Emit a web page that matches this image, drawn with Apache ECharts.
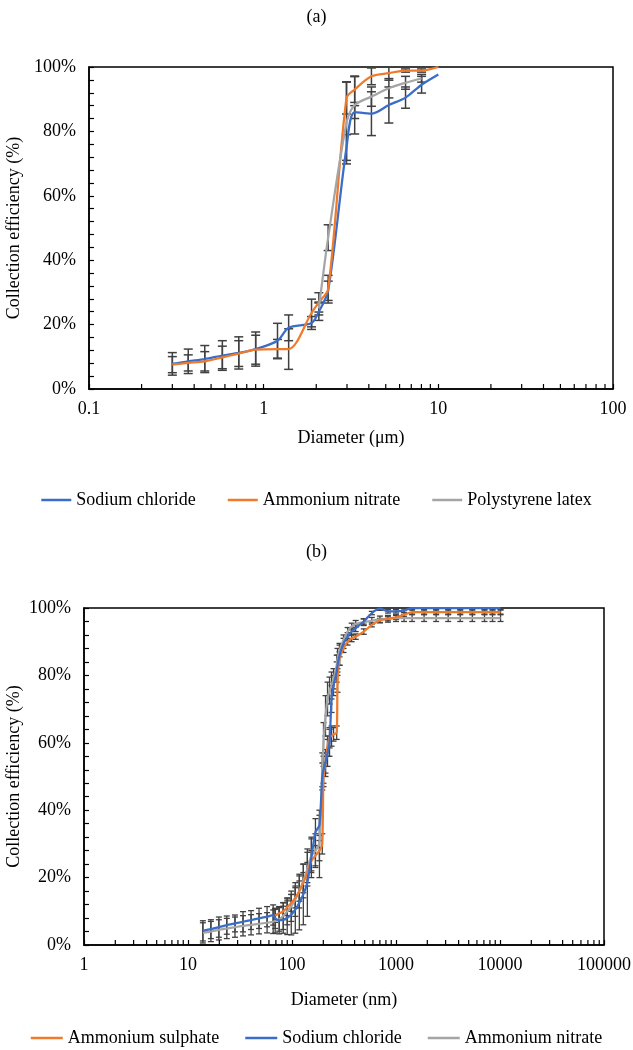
<!DOCTYPE html>
<html><head><meta charset="utf-8">
<script src="https://cdn.jsdelivr.net/npm/echarts@6/dist/echarts.min.js"></script>
<style>html,body{margin:0;padding:0;background:#fff}#c{width:633px;height:1050px}</style>
</head><body><div id="c"></div>
<script>
// ---------- Panel (a): diameter in µm ----------
const diamA = [0.3, 0.37, 0.46, 0.58, 0.72, 0.9, 1.2, 1.39, 1.88, 2.07, 2.34, 2.98, 3.32, 4.14, 5.21, 6.49, 8.02, 10];
const naClA = [0.078, 0.086, 0.093, 0.104, 0.112, 0.124, 0.150, 0.190, 0.205, 0.240, 0.305, 0.75, 0.86, 0.855, 0.882, 0.905, 0.945, 0.977];
const naClAErr = [0.035, 0.038, 0.042, 0.046, 0.05, 0.053, 0.054, 0.04, 0.02, 0.027, 0.03, 0.04, 0.02, 0.068, 0.056, 0.033, 0.026, 0];
const anA = [0.0756, 0.081, 0.086, 0.098, 0.110, 0.122, 0.124, 0.124, 0.236, 0.269, 0.31, 0.904, 0.93, 0.971, 0.981, 0.989, 0.989, 1.0];
const anAErr = [0.025, 0.025, 0.03, 0.035, 0.04, 0.045, 0.03, 0.063, 0.043, 0.03, 0.043, 0.05, 0.04, 0.026, 0.022, 0.005, 0.005, 0];
const diamPSL = [2.07, 2.34, 2.98, 3.32, 4.14, 5.21, 6.49, 8.02];
const pslA = [0.25, 0.47, 0.826, 0.882, 0.908, 0.934, 0.951, 0.965];
const pslAErr = [0.02, 0.04, 0.127, 0.09, 0.03, 0.03, 0.02, 0.012];
const namesA = ['Sodium chloride', 'Ammonium nitrate', 'Polystyrene latex'];

// ---------- Panel (b): diameter in nm ----------
const diamB = [13.9, 16.6, 19.8, 23.6, 28.3, 33.8, 40.4, 48.2, 57.6, 65.9, 68.9, 75.3, 82.4, 90, 98.4, 107.6, 117.6, 128.5, 140.5, 153.6, 168, 183.6, 195.5, 200.8, 210, 219.6, 229.6, 240, 250.9, 269, 274, 286.5, 313, 342.6, 374.6, 409.6, 489.7, 585.5, 699.9, 836.8, 1000, 1195, 1428, 1863, 2432, 3175, 4146, 5416, 7093, 8473, 10120];
const asB = [null, null, null, null, null, null, null, null, null, null, 0.087, 0.094, 0.100, 0.112, 0.125, 0.14, 0.16, 0.185, 0.215, 0.25, 0.265, 0.28, 0.30, 0.50, 0.54, 0.59, 0.615, 0.62, 0.625, 0.63, 0.78, 0.85, 0.88, 0.90, 0.91, 0.915, 0.93, 0.95, 0.963, 0.968, 0.972, 0.98, 0.988, 0.988, 0.988, 0.988, 0.988, 0.988, 0.988, 0.988, 0.988];
const asBErr = [null, null, null, null, null, null, null, null, null, null, 0.02, 0.02, 0.025, 0.025, 0.025, 0.03, 0.03, 0.03, 0.03, 0.03, 0.03, 0.03, 0.03, 0.03, 0.03, 0.03, 0.03, 0.03, 0.02, 0.02, 0.03, 0.02, 0.012, 0.01, 0.01, 0.008, 0.008, 0.006, 0.006, 0.006, 0.006, 0.006, 0.006, 0.006, 0.006, 0.006, 0.006, 0.006, 0.006, 0.006, 0.006];
const naClB = [0.042, 0.047, 0.053, 0.059, 0.064, 0.069, 0.074, 0.079, 0.084, 0.089, 0.079, 0.073, 0.075, 0.081, 0.090, 0.105, 0.125, 0.150, 0.185, 0.26, 0.335, 0.355, 0.50, 0.52, 0.54, 0.57, 0.60, 0.73, 0.77, 0.81, 0.83, 0.86, 0.895, 0.915, 0.93, 0.94, 0.96, 0.985, 0.998, 0.99, 0.99, 0.992, 1.0, 1.0, 1.0, 1.0, 1.0, 1.0, 1.0, 1.0, 1.0];
const naClBErr = [0.03, 0.028, 0.03, 0.027, 0.025, 0.03, 0.028, 0.03, 0.03, 0.03, 0.03, 0.04, 0.04, 0.05, 0.06, 0.07, 0.08, 0.09, 0.1, 0.06, 0.04, 0.03, 0.04, 0.04, 0.04, 0.04, 0.04, 0.04, 0.03, 0.03, 0.03, 0.03, 0.015, 0.012, 0.01, 0.01, 0.008, 0.005, 0.005, 0.005, 0.005, 0.005, 0.005, 0.005, 0.005, 0.005, 0.005, 0.005, 0.005, 0.005, 0.005];
const anB = [0.036, 0.040, 0.045, 0.049, 0.053, 0.057, 0.060, 0.063, 0.066, 0.069, 0.071, 0.076, 0.086, 0.10, 0.115, 0.135, 0.16, 0.19, 0.225, 0.265, 0.28, 0.30, 0.52, 0.60, 0.68, 0.73, 0.755, 0.77, 0.79, 0.83, 0.85, 0.875, 0.905, 0.93, 0.945, 0.953, 0.958, 0.962, 0.966, 0.968, 0.97, 0.97, 0.97, 0.97, 0.97, 0.97, 0.97, 0.97, 0.97, 0.97, 0.97];
const anBErr = [0.03, 0.03, 0.03, 0.03, 0.03, 0.03, 0.03, 0.03, 0.03, 0.035, 0.035, 0.035, 0.04, 0.04, 0.045, 0.05, 0.05, 0.05, 0.05, 0.05, 0.05, 0.1, 0.05, 0.06, 0.06, 0.05, 0.04, 0.04, 0.03, 0.03, 0.03, 0.02, 0.015, 0.012, 0.01, 0.01, 0.01, 0.01, 0.01, 0.01, 0.01, 0.01, 0.01, 0.01, 0.01, 0.01, 0.01, 0.01, 0.01, 0.01, 0.01];
const namesB = ['Ammonium sulphate', 'Sodium chloride', 'Ammonium nitrate'];

// ---------- Axis tick labels ----------
const xTicksA = [0.1, 1, 10, 100];
const xTicksB = [1, 10, 100, 1000, 10000, 100000];
const yTicks = [0, 0.2, 0.4, 0.6, 0.8, 1.0];

// ---------- Styling ----------
const FONT = '"Liberation Serif","Times New Roman",serif';
const BLUE = '#3A6DC8', ORANGE = '#F07A2C', GRAY = '#A5A5A5', ERR = '#404040';
const FS = 18;

function zip(xs, ys) { return xs.map((x, i) => [x, ys[i] == null ? null : ys[i]]); }
function errRows(xs, ys, es) {
  const r = [];
  xs.forEach((x, i) => { if (ys[i] != null && es[i]) r.push([x, ys[i] - es[i], ys[i] + es[i]]); });
  return r;
}
function errRender(cap, w) {
  return function (params, api) {
    const x = api.value(0), lo = api.value(1), hi = api.value(2);
    const a = api.coord([x, lo]), b = api.coord([x, hi]);
    const st = { stroke: ERR, lineWidth: w };
    return { type: 'group', children: [
      { type: 'line', shape: { x1: a[0], y1: a[1], x2: b[0], y2: b[1] }, style: st },
      { type: 'line', shape: { x1: a[0] - cap, y1: a[1], x2: a[0] + cap, y2: a[1] }, style: st },
      { type: 'line', shape: { x1: b[0] - cap, y1: b[1], x2: b[0] + cap, y2: b[1] }, style: st }
    ] };
  };
}
function minorLogTicks(ticks) {
  const out = [];
  for (let i = 0; i < ticks.length - 1; i++) for (let m = 2; m <= 9; m++) out.push([ticks[i] * m, 0]);
  return out;
}
function minorTickSeries(gi, ticks) {
  return {
    type: 'custom', xAxisIndex: gi, yAxisIndex: gi, silent: true, z: 5,
    data: minorLogTicks(ticks), encode: { x: 0, y: 1 },
    renderItem: (p, api) => {
      const c = api.coord([api.value(0), 0]);
      return { type: 'line', shape: { x1: c[0], y1: c[1], x2: c[0], y2: c[1] - 5 }, style: { stroke: '#000', lineWidth: 1.2 } };
    }
  };
}
function xAxis(gi, ticks, name, gap) {
  return {
    type: 'log', logBase: 10, gridIndex: gi, min: ticks[0], max: ticks[ticks.length - 1],
    name, nameLocation: 'middle', nameGap: gap,
    nameTextStyle: { fontFamily: FONT, fontSize: FS, color: '#000' },
    axisLine: { onZero: false, lineStyle: { color: '#000', width: 1.5 } },
    axisTick: { inside: true, length: 5, lineStyle: { color: '#000', width: 1.2 } },
    axisLabel: { fontFamily: FONT, fontSize: FS, color: '#000', margin: 11,
      formatter: v => { const n = ticks.find(t => Math.abs(t - v) / t < 1e-6); return n != null ? String(n) : ''; } },
    splitLine: { show: false }
  };
}
function yAxis(gi, gap) {
  return {
    type: 'value', gridIndex: gi, min: yTicks[0], max: yTicks[yTicks.length - 1], interval: 0.2,
    name: 'Collection efficiency (%)', nameLocation: 'middle', nameGap: gap, nameRotate: 90, nameMoveOverlap: false,
    nameTextStyle: { fontFamily: FONT, fontSize: FS, color: '#000' },
    axisLine: { show: true, lineStyle: { color: '#000', width: 1.5 } },
    axisTick: { show: true, inside: true, length: 5, lineStyle: { color: '#000', width: 1.2 } },
    minorTick: { show: true, splitNumber: 5, length: 5, lineStyle: { color: '#000', width: 1.2 } },
    axisLabel: { fontFamily: FONT, fontSize: FS, color: '#000', margin: 13, formatter: v => Math.round(v * 100) + '%' },
    splitLine: { show: false }
  };
}
function lineSeries(gi, key, data, color, smooth) {
  return {
    type: 'line', name: key, xAxisIndex: gi, yAxisIndex: gi, data, symbol: 'none', smooth,
    lineStyle: { color, width: 2.25 }, itemStyle: { color }, z: 4, silent: true
  };
}
function errSeries(gi, rows, cap, w) {
  return { type: 'custom', xAxisIndex: gi, yAxisIndex: gi, data: rows, encode: { x: 0, y: [1, 2] },
    renderItem: errRender(cap, w), silent: true, z: 3, clip: true };
}

const chart = echarts.init(document.getElementById('c'), null, { renderer: 'canvas' });
const legendText = { fontFamily: FONT, fontSize: FS, color: '#000' };
const gridBase = { show: true, borderColor: '#000', borderWidth: 1.5, containLabel: false, outerBoundsMode: 'none' };
chart.setOption({
  backgroundColor: '#fff',
  animation: false,
  title: [
    { text: '(a)', left: 'center', top: 3, textStyle: { fontFamily: FONT, fontSize: FS, fontWeight: 'normal', color: '#000' } },
    { text: '(b)', left: 'center', top: 538, textStyle: { fontFamily: FONT, fontSize: FS, fontWeight: 'normal', color: '#000' } }
  ],
  grid: [
    Object.assign({ left: 89, top: 67, width: 524, height: 322 }, gridBase),
    Object.assign({ left: 84, top: 608, width: 520, height: 337 }, gridBase)
  ],
  legend: [
    { data: namesA.map(n => 'a:' + n), top: 486, left: 'center', icon: 'rect', itemWidth: 30, itemHeight: 2.5, itemGap: 32,
      textStyle: legendText, formatter: n => n.slice(2), selectedMode: false },
    { data: namesB.map(n => 'b:' + n), top: 1024, left: 'center', icon: 'rect', itemWidth: 32, itemHeight: 2.5, itemGap: 26,
      textStyle: legendText, formatter: n => n.slice(2), selectedMode: false }
  ],
  xAxis: [xAxis(0, xTicksA, 'Diameter (μm)', 40), xAxis(1, xTicksB, 'Diameter (nm)', 46)],
  yAxis: [yAxis(0, 66), yAxis(1, 61)],
  series: [
    minorTickSeries(0, xTicksA),
    minorTickSeries(1, xTicksB),
    errSeries(0, errRows(diamA, naClA, naClAErr), 4.5, 1.5),
    errSeries(0, errRows(diamA, anA, anAErr), 4.5, 1.5),
    errSeries(0, errRows(diamPSL, pslA, pslAErr), 4.5, 1.5),
    lineSeries(0, 'a:' + namesA[0], zip(diamA, naClA), BLUE, 0.3),
    lineSeries(0, 'a:' + namesA[1], zip(diamA, anA), ORANGE, 0.3),
    lineSeries(0, 'a:' + namesA[2], zip(diamPSL, pslA), GRAY, 0.3),
    errSeries(1, errRows(diamB, asB, asBErr), 3, 1.3),
    errSeries(1, errRows(diamB, naClB, naClBErr), 3, 1.3),
    errSeries(1, errRows(diamB, anB, anBErr), 3, 1.3),
    lineSeries(1, 'b:' + namesB[2], zip(diamB, anB), GRAY, 0.2),
    lineSeries(1, 'b:' + namesB[0], zip(diamB, asB), ORANGE, 0.2),
    lineSeries(1, 'b:' + namesB[1], zip(diamB, naClB), BLUE, 0.2)
  ]
});
</script></body></html>
